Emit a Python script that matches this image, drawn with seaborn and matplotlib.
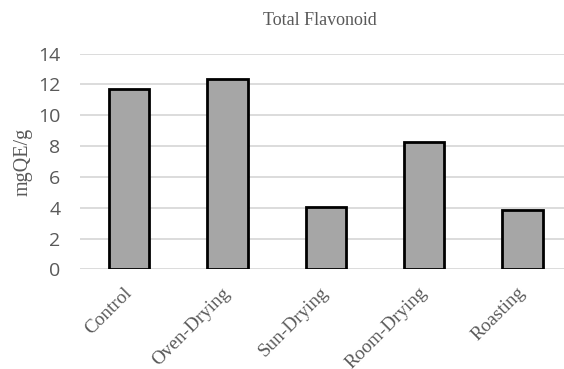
import matplotlib
matplotlib.use("Agg")
import matplotlib.pyplot as plt
import seaborn as sns
import pandas as pd

# Total flavonoid content per processing treatment
treatments = ["Control", "Oven-Drying", "Sun-Drying", "Room-Drying", "Roasting"]
flavonoid = [11.7, 12.35, 4.02, 8.25, 3.86]
y_ticks = [0, 2, 4, 6, 8, 10, 12, 14]

df = pd.DataFrame({"treatment": treatments, "flavonoid": flavonoid})

sns.set_theme(style="white")
plt.rcParams["font.family"] = ["Liberation Serif", "DejaVu Serif"]

fig = plt.figure(figsize=(5.64, 3.69), dpi=100)
ax = fig.add_axes([0.1418, 0.270, 0.872, 0.585])

sns.barplot(data=df, x="treatment", y="flavonoid", ax=ax,
            color="#a6a6a6", saturation=1, width=0.41,
            edgecolor="black", linewidth=2.0, zorder=3)

ax.set_xlim(-0.5, 4.5)
ax.set_ylim(0, 14)
ax.set_yticks(y_ticks)
ax.set_yticklabels([str(t) for t in y_ticks], fontfamily="Open Sans",
                   fontsize=14, color="#595959")
ax.grid(axis="y", color="#d9d9d9", linewidth=1.3, zorder=0)
ax.grid(axis="x", visible=False)
for s in ax.spines.values():
    s.set_visible(False)
ax.tick_params(axis="both", length=0)
ax.tick_params(axis="y", pad=14)

ax.set_xticks(range(len(treatments)))
ax.set_xticklabels(treatments, rotation=45, ha="right", va="center",
                   rotation_mode="anchor", fontsize=13.8, color="#595959")
ax.tick_params(axis="x", pad=15)

ax.set_xlabel("")
ax.set_ylabel("mgQE/g", fontsize=14.5, color="#595959")
ax.yaxis.set_label_coords(-0.097, 0.5)

fig.text(0.567, 0.945, "Total Flavonoid", ha="center", va="center",
         fontsize=13, color="#595959")

fig.savefig("out.png", dpi=100)
